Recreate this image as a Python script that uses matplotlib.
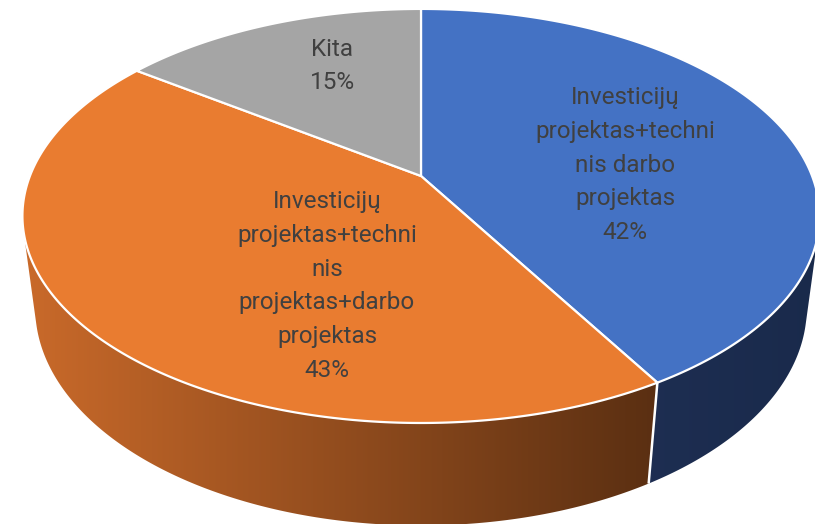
import numpy as np
import matplotlib
matplotlib.use("Agg")
import matplotlib.pyplot as plt
from matplotlib.patches import Polygon

# ---------------- data ----------------
categories = [
    "Investicijų\nprojektas+techni\nnis darbo\nprojektas",
    "Investicijų\nprojektas+techni\nnis\nprojektas+darbo\nprojektas",
    "Kita",
]
values = [41.6, 43.4, 15.0]

# ---------------- style ----------------
top_colors = ["#4472C4", "#E97C30", "#A5A5A5"]
wall_left_colors = [(0.115, 0.180, 0.320), (0.790, 0.415, 0.165), (0.45, 0.45, 0.45)]
wall_right_colors = [(0.100, 0.165, 0.295), (0.355, 0.185, 0.070), (0.40, 0.40, 0.40)]
text_color = "#404040"
label_xy = [(625, 165), (327, 286), (332, 66)]

W, H = 815, 524
fig = plt.figure(figsize=(W / 100, H / 100), dpi=100)
ax = fig.add_axes([0, 0, 1, 1])
ax.set_xlim(0, W)
ax.set_ylim(H, 0)
ax.axis("off")

# perspective camera
CX, CY = 421.0, 176.0
ALPHA = np.radians(30.64)
DIST = 4.457
FOC = 1743.0
THICK = 0.279
sa, ca = np.sin(ALPHA), np.cos(ALPHA)


def proj(theta_deg, r=1.0, z=0.0):
    t = np.radians(np.asarray(theta_deg, dtype=float))
    u = r * np.sin(t)
    v = r * np.cos(t)
    yc = v * sa + z * ca
    zc = DIST + v * ca - z * sa
    return CX + FOC * u / zc, CY - FOC * yc / zc


total = sum(values)
bounds = np.concatenate([[0.0], np.cumsum(values) / total * 360.0])
theta_vis = np.degrees(np.arccos(-1.0 / (DIST * ca)))
vis_lo, vis_hi = theta_vis, 360.0 - theta_vis

# ---- side walls ----
for i in range(len(values)):
    a, b = max(bounds[i], vis_lo), min(bounds[i + 1], vis_hi)
    if b <= a:
        continue
    th = np.linspace(a, b, 200)
    xt, yt = proj(th, 1.0, 0.0)
    xb, yb = proj(th[::-1], 1.0, -THICK)
    xs = np.concatenate([xt, xb])
    ys = np.concatenate([yt, yb])
    poly = Polygon(np.column_stack([xs, ys]), closed=True, facecolor="none",
                   edgecolor="none")
    ax.add_patch(poly)
    x0, x1 = xs.min(), xs.max()
    n = 256
    c0 = np.array(wall_left_colors[i])
    c1 = np.array(wall_right_colors[i])
    tt = np.linspace(0, 1, n)[None, :, None]
    img = c0[None, None, :] * (1 - tt) + c1[None, None, :] * tt
    im = ax.imshow(img, extent=[x0, x1, ys.max(), ys.min()], aspect="auto",
                   interpolation="bilinear", zorder=1)
    im.set_clip_path(poly)

# white seams on the wall between slices
for bnd in bounds[1:-1]:
    if vis_lo < bnd < vis_hi:
        x0, y0 = proj(bnd, 1.0, 0.0)
        x1, y1 = proj(bnd, 1.0, -THICK)
        ax.plot([x0, x1], [y0, y1], color="white", lw=1.8, zorder=2,
                solid_capstyle="butt")

# ---- top faces ----
cx0, cy0 = proj(0.0, 0.0, 0.0)
for i in range(len(values)):
    th = np.linspace(bounds[i], bounds[i + 1], 300)
    xt, yt = proj(th, 1.0, 0.0)
    xs = np.concatenate([[cx0], xt])
    ys = np.concatenate([[cy0], yt])
    ax.add_patch(Polygon(np.column_stack([xs, ys]), closed=True,
                         facecolor=top_colors[i], edgecolor="white",
                         lw=1.6, joinstyle="round", zorder=3))

# ---- labels ----
for i, cat in enumerate(categories):
    pct = f"{round(values[i] / total * 100):.0f}%"
    ax.text(label_xy[i][0], label_xy[i][1], f"{cat}\n{pct}",
            ha="center", va="center", multialignment="center",
            fontsize=17.5, family=["Roboto", "DejaVu Sans"],
            color=text_color, linespacing=1.6, zorder=5)

fig.savefig("out.png", dpi=100)
